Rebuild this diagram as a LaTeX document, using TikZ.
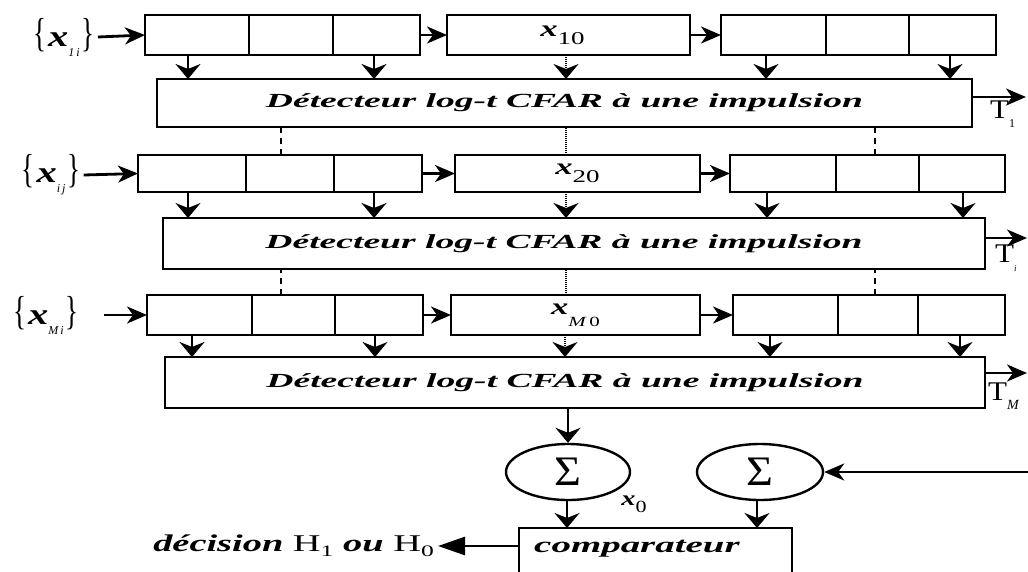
\documentclass[tikz,border=0pt]{standalone}
\usepackage{fontspec}
\setmainfont{Liberation Serif}
\usetikzlibrary{arrows.meta,shapes.geometric}

% horizontal stretch used for the wide lettering
\newcommand\wide[2]{\scalebox{#1}[1]{#2}}
\newcommand\detlabel{\wide{1.88}{\fontsize{20}{24}\selectfont\bfseries\itshape D\'etecteur log-t CFAR \`a une impulsion}}
\newcommand\xbold[1]{{\fontsize{#1}{#1}\selectfont\bfseries\itshape x}}
\newcommand\xsub[3]{\wide{1.5}{\xbold{23}}\raisebox{#1}{\wide{1.5}{\fontsize{#2}{#2}\selectfont #3}}}
\newcommand\openbr{\scalebox{1}[1.5]{\fontsize{27}{27}\selectfont\{}}
\newcommand\closebr{\scalebox{1}[1.5]{\fontsize{27}{27}\selectfont\}}}
\newcommand\inlab[1]{\openbr\,\wide{1.35}{\xbold{30}}\raisebox{-10pt}{\fontsize{12}{12}\selectfont\itshape #1}\,\closebr}
\newcommand\tlab[2]{\wide{1.15}{\fontsize{27}{27}\selectfont T}\raisebox{-9pt}{\fontsize{#1}{#1}\selectfont #2}}

\tikzset{
  cellbox/.style={draw, rectangle, line width=2.8pt, inner sep=0pt, outer sep=0pt},
  sumnode/.style={draw, ellipse, line width=2.4pt, inner sep=0pt,
    minimum width=124pt, minimum height=56pt},
  dn/.style={line width=2.8pt, -{Stealth[length=15pt,width=25pt,inset=5pt]}},
  rt/.style={line width=2.8pt, -{Stealth[length=20pt,width=17pt,inset=6pt]}},
  lt/.style={line width=2.8pt, -{Triangle[length=27pt,width=18pt]}},
  dashlink/.style={line width=2.8pt, dash pattern=on 6pt off 5pt},
  dotlink/.style={line width=2.2pt, dash pattern=on 1pt off 1pt},
}

\begin{document}
\begin{tikzpicture}[x=1pt,y=-1pt]
\useasboundingbox (0,0) rectangle (1028,571);
\fill[white] (0,0) rectangle (1028,571);
\clip (0,0) rectangle (1028,571);

% ---------- first stage ----------
\node[cellbox, minimum width=104pt, minimum height=40pt] (r1a) at (197,35) {};
\node[cellbox, minimum width=84pt,  minimum height=40pt] (r1b) at (291,35) {};
\node[cellbox, minimum width=87pt,  minimum height=40pt] (r1c) at (376.5,35) {};
\node[cellbox, minimum width=243pt, minimum height=40pt] (r1m) at (568.5,35) {\xsub{-8pt}{18}{10}\hspace*{12pt}};
\node[cellbox, minimum width=105pt, minimum height=40pt] (r1d) at (773.5,35) {};
\node[cellbox, minimum width=83pt,  minimum height=40pt] (r1e) at (867.5,35) {};
\node[cellbox, minimum width=87pt,  minimum height=40pt] (r1f) at (952.5,35) {};
\node[cellbox, minimum width=815pt, minimum height=48pt] (d1) at (564.5,103) {\detlabel};
\node (l1) at (64,37) {\inlab{1\,i}};
\coordinate (t1) at (1026,97);
\node[anchor=west, inner sep=0pt] (T1) at (990,114) {\tlab{12}{1}};

% ---------- second stage ----------
\node[cellbox, minimum width=108pt, minimum height=37pt] (r2a) at (192,173.5) {};
\node[cellbox, minimum width=88pt,  minimum height=37pt] (r2b) at (290,173.5) {};
\node[cellbox, minimum width=88pt,  minimum height=37pt] (r2c) at (378,173.5) {};
\node[cellbox, minimum width=245pt, minimum height=37pt] (r2m) at (577.5,173.5) {\xsub{-8pt}{18}{20}};
\node[cellbox, minimum width=106pt, minimum height=37pt] (r2d) at (783,173.5) {};
\node[cellbox, minimum width=83pt,  minimum height=37pt] (r2e) at (877.5,173.5) {};
\node[cellbox, minimum width=86pt,  minimum height=37pt] (r2f) at (962,173.5) {};
\node[cellbox, minimum width=822pt, minimum height=51pt] (d2) at (574,243.5) {\detlabel\hspace*{20pt}};
\node (l2) at (51,175) {\inlab{i\,j}};
\coordinate (t2) at (1027,238);
\node[anchor=west, inner sep=0pt] (T2) at (995,258) {\tlab{9}{\itshape i}};

% ---------- last stage ----------
\node[cellbox, minimum width=105pt, minimum height=40pt] (r3a) at (199.5,315) {};
\node[cellbox, minimum width=83pt,  minimum height=40pt] (r3b) at (293.5,315) {};
\node[cellbox, minimum width=88pt,  minimum height=40pt] (r3c) at (379,315) {};
\node[cellbox, minimum width=249pt, minimum height=40pt] (r3m) at (575.5,315) {\xsub{-12pt}{14}{\itshape M\,\upshape 0}};
\node[cellbox, minimum width=105pt, minimum height=40pt] (r3d) at (785.5,315) {};
\node[cellbox, minimum width=80pt,  minimum height=40pt] (r3e) at (878,315) {};
\node[cellbox, minimum width=87pt,  minimum height=40pt] (r3f) at (961.5,315) {};
\node[cellbox, minimum width=820pt, minimum height=51pt] (d3) at (575,382.5) {\detlabel\hspace*{20pt}};
\node (l3) at (46,315) {\inlab{M\,i}};
\coordinate (t3) at (1027,373);
\node[anchor=west, inner sep=0pt] (T3) at (988,396) {\tlab{14}{\itshape M}};

% ---------- summation and comparison ----------
\node[sumnode] (s1) at (568,472) {\wide{1.1}{\fontsize{42}{42}\selectfont\char"03A3}};
\node[sumnode, minimum width=126pt] (s2) at (760,472) {\wide{1.1}{\fontsize{42}{42}\selectfont\char"03A3}};
\coordinate (sin) at (1030,472);
\node (x0) at (634,504) {\wide{1.35}{\xbold{21}}\raisebox{-7pt}{\wide{1.3}{\fontsize{17}{17}\selectfont 0}}};
\node[cellbox, minimum width=273pt, minimum height=90pt] (cmp) at (655.5,573) {};
\node (cmptext) at (637,549) {\wide{1.77}{\fontsize{22}{22}\selectfont\bfseries\itshape comparateur}};
\node[anchor=east, inner sep=0pt] (dec) at (434,546) {\wide{1.6}{\fontsize{24}{24}\selectfont
  \textbf{\textit{d\'ecision}} H\raisebox{-5pt}{\fontsize{16}{16}\selectfont 1} \textbf{\textit{ou}} H\raisebox{-5pt}{\fontsize{16}{16}\selectfont 0}}};

% ---------- connectors: inputs and shift register links ----------
\draw[rt] (l1.east) -- (r1a.west);
\draw[rt] (l2.east) -- (r2a.west);
\draw[rt] ([xshift=22pt]l3.east) -- (r3a.west);
\draw[rt] (r1c.east) -- (r1m.west);
\draw[rt] (r1m.east) -- (r1d.west);
\draw[rt] (r2c.east) -- (r2m.west);
\draw[rt] (r2m.east) -- (r2d.west);
\draw[rt] (r3c.east) -- (r3m.west);
\draw[rt] (r3m.east) -- (r3d.west);

% cells feeding the detectors
\draw[dn] ([xshift=-9pt]r1a.south) -- ([xshift=-9pt]r1a.south |- d1.north);
\draw[dn] ([xshift=-2.5pt]r1c.south) -- ([xshift=-2.5pt]r1c.south |- d1.north);
\draw[dn, dotlink] ([xshift=-2.5pt]r1m.south) -- ([xshift=-2.5pt]r1m.south |- d1.north);
\draw[dn] ([xshift=-7.5pt]r1d.south) -- ([xshift=-7.5pt]r1d.south |- d1.north);
\draw[dn] ([xshift=-2.5pt]r1f.south) -- ([xshift=-2.5pt]r1f.south |- d1.north);

\draw[dn] ([xshift=-4pt]r2a.south) -- ([xshift=-4pt]r2a.south |- d2.north);
\draw[dn] ([xshift=-4pt]r2c.south) -- ([xshift=-4pt]r2c.south |- d2.north);
\draw[dn, dotlink] ([xshift=-11.5pt]r2m.south) -- ([xshift=-11.5pt]r2m.south |- d2.north);
\draw[dn] ([xshift=-16pt]r2d.south) -- ([xshift=-16pt]r2d.south |- d2.north);
\draw[dn] ([xshift=1pt]r2f.south) -- ([xshift=1pt]r2f.south |- d2.north);

\draw[dn] ([xshift=-7.5pt]r3a.south) -- ([xshift=-7.5pt]r3a.south |- d3.north);
\draw[dn] ([xshift=-4pt]r3c.south) -- ([xshift=-4pt]r3c.south |- d3.north);
\draw[dn, dotlink] ([xshift=-10.5pt]r3m.south) -- ([xshift=-10.5pt]r3m.south |- d3.north);
\draw[dn] ([xshift=-15.5pt]r3d.south) -- ([xshift=-15.5pt]r3d.south |- d3.north);
\draw[dn] ([xshift=-1.5pt]r3f.south) -- ([xshift=-1.5pt]r3f.south |- d3.north);

% links between successive stages
\draw[dashlink] ([xshift=-9pt]r2b.north) -- ([xshift=-9pt]r2b.north |- d1.south);
\draw[dotlink] ([xshift=-11.5pt]r2m.north) -- ([xshift=-11.5pt]r2m.north |- d1.south);
\draw[dashlink] ([xshift=-2.5pt]r2e.north) -- ([xshift=-2.5pt]r2e.north |- d1.south);
\draw[dashlink] ([xshift=-12.5pt]r3b.north) -- ([xshift=-12.5pt]r3b.north |- d2.south);
\draw[dotlink] ([xshift=-9.5pt]r3m.north) -- ([xshift=-9.5pt]r3m.north |- d2.south);
\draw[dashlink] ([xshift=-3pt]r3e.north) -- ([xshift=-3pt]r3e.north |- d2.south);

% detector outputs
\draw[rt] (d1.east |- t1) -- (t1);
\draw[rt] (d2.east |- t2) -- (t2);
\draw[rt] (d3.east |- t3) -- (t3);

% summation and decision
\draw[dn] (d3.south -| s1.north) -- (s1.north);
\draw[rt] (sin) -- (s2.east);
\draw[dn] ([xshift=-1pt]s1.south) -- ([xshift=-1pt]s1.south |- cmp.north);
\draw[dn] ([xshift=-3pt]s2.south) -- ([xshift=-3pt]s2.south |- cmp.north);
\draw[lt] ([yshift=-18pt]cmp.north west) -- ([xshift=4pt]dec.east);
\end{tikzpicture}
\end{document}
